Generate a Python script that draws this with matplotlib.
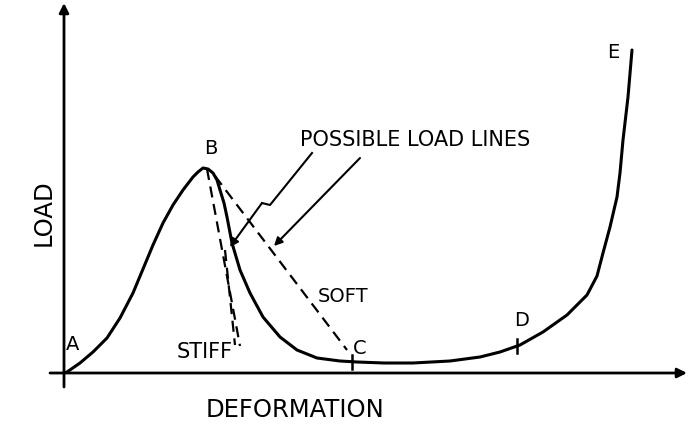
import matplotlib
matplotlib.use("Agg")
from matplotlib import pyplot as plt
import numpy as np

# load-deformation curve (arbitrary units)
deformation = [0, 3, 16, 29, 43, 56, 69, 79, 89, 99, 109, 119, 129, 134, 139, 144,
               149, 153, 156, 160, 163, 168, 176, 186, 199, 216, 233, 253, 276, 293,
               320, 349, 386, 416, 436, 456, 479, 503, 523, 533, 539, 546, 553, 556,
               559, 564, 568]
load = [0, 1, 10, 21, 35, 55, 80, 104, 128, 150, 168, 183, 196, 201, 205, 204,
        200, 193, 183, 170, 156, 130, 103, 80, 56, 36, 23, 15, 12, 11,
        10, 10, 12, 16, 21, 28, 41, 58, 78, 97, 120, 146, 176, 200,
        233, 276, 323]

# labelled points
point_names = ["A", "B", "C", "D", "E"]
point_x = [9, 147, 296, 458, 549]
point_y = [28, 225, 25, 53, 321]

# ticks drawn across the curve at C and D
tick_x = [288, 453]
tick_y = [11, 27]

# load lines (dashed)
stiff_x = [143, 176]
stiff_y = [204, 27]
stiff2_x = [161, 171]
stiff2_y = [123, 28]
soft_x = [151, 283]
soft_y = [197, 23]

# pointers from the "possible load lines" note
ptr1_x = [248, 206, 198, 166]
ptr1_y = [220, 168, 170, 126]
ptr2_x = [296, 210]
ptr2_y = [215, 127]

linewidth = 2

fig = plt.figure(figsize=(7, 4.24), dpi=100)
ax = fig.add_axes([0, 0, 1, 1])
ax.set_xlim(-64, 636)
ax.set_ylim(-51, 373)
ax.axis("off")

# axes with arrows
ax.annotate("", xy=(0, 370), xytext=(0, -14),
            arrowprops=dict(arrowstyle="-|>", lw=linewidth, color="black",
                            mutation_scale=14, shrinkA=0, shrinkB=0))
ax.annotate("", xy=(623, 0), xytext=(-14, 0),
            arrowprops=dict(arrowstyle="-|>", lw=linewidth, color="black",
                            mutation_scale=14, shrinkA=0, shrinkB=0))

ax.plot(deformation, load, color="black", linewidth=2.2, solid_capstyle="round",
        solid_joinstyle="round")

for tx, ty in zip(tick_x, tick_y):
    ax.plot([tx, tx], [ty - 7, ty + 7], color="black", linewidth=1.8)

ax.plot(stiff_x, stiff_y, color="black", linewidth=1.6, dashes=(5, 3))
ax.plot(stiff2_x, stiff2_y, color="black", linewidth=1.6, dashes=(5, 3))
ax.plot(soft_x, soft_y, color="black", linewidth=1.6, dashes=(5, 3))

# pointers
ax.plot(ptr1_x[:-1], ptr1_y[:-1], color="black", linewidth=1.5)
ax.annotate("", xy=(ptr1_x[-1], ptr1_y[-1]), xytext=(ptr1_x[-2], ptr1_y[-2]),
            arrowprops=dict(arrowstyle="-|>", lw=1.5, color="black",
                            mutation_scale=12, shrinkA=0, shrinkB=0))
ax.annotate("", xy=(ptr2_x[-1], ptr2_y[-1]), xytext=(ptr2_x[0], ptr2_y[0]),
            arrowprops=dict(arrowstyle="-|>", lw=1.5, color="black",
                            mutation_scale=12, shrinkA=0, shrinkB=0))

for name, px, py in zip(point_names, point_x, point_y):
    ax.text(px, py, name, fontsize=14, ha="center", va="center")

ax.text(351, 233, "POSSIBLE LOAD LINES", fontsize=15, ha="center", va="center")
ax.text(141, 21, "STIFF", fontsize=15, ha="center", va="center")
ax.text(279, 77, "SOFT", fontsize=14, ha="center", va="center")
ax.text(231, -37, "DEFORMATION", fontsize=17.5, ha="center", va="center")
ax.text(-20, 160, "LOAD", fontsize=17.5, ha="center", va="center", rotation=90)

fig.savefig("out.png", dpi=100)
